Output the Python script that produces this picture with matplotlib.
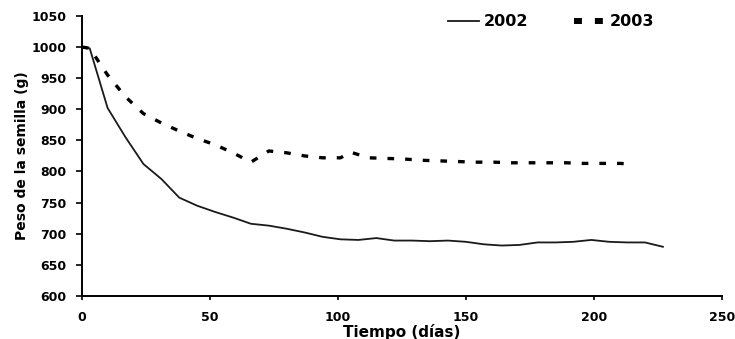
import matplotlib.pyplot as plt
from matplotlib.lines import Line2D

plt.rcParams['font.family'] = ['DejaVu Sans']
plt.rcParams['font.weight'] = 'bold'

days_2002 = [0, 3, 10, 17, 24, 31, 38, 45, 52, 59, 66, 73, 80, 87, 94, 101, 108, 115,
             122, 129, 136, 143, 150, 157, 164, 171, 178, 185, 192, 199, 206, 213, 220, 227]
peso_2002 = [1000, 998, 902, 855, 812, 788, 758, 745, 735, 726, 716, 713, 708, 702, 695, 691, 690, 693,
             689, 689, 688, 689, 687, 683, 681, 682, 686, 686, 687, 690, 687, 686, 686, 679]

days_2003 = [0, 3, 10, 17, 24, 31, 38, 45, 52, 59, 66, 73, 80, 87, 94, 101, 105, 112,
             119, 126, 133, 140, 147, 154, 161, 168, 175, 182, 189, 196, 203, 210, 215]
peso_2003 = [1000, 998, 955, 920, 893, 878, 865, 853, 843, 830, 815, 833, 830, 825, 822, 822, 831, 822,
             821, 820, 818, 817, 816, 815, 815, 814, 814, 814, 814, 813, 813, 813, 812]

fig = plt.figure(figsize=(7.35, 3.39), dpi=100)
ax = fig.add_axes([0.1116, 0.127, 0.8704, 0.826])

ax.plot(days_2002, peso_2002, color="#1a1a1a", linewidth=1.3)
ax.plot(days_2003, peso_2003, color="black", linewidth=2.4, linestyle=(0, (2.0, 3.3)))

ax.set_xlim(0, 250)
ax.set_ylim(600, 1050)
ax.set_xticks(range(0, 251, 50))
ax.set_yticks(range(600, 1051, 50))
ax.spines["top"].set_visible(False)
ax.spines["right"].set_visible(False)
ax.spines["left"].set_linewidth(1.4)
ax.spines["bottom"].set_linewidth(1.4)
ax.tick_params(axis="y", direction="out", length=4.5, width=1.2, labelsize=9, pad=6.5)
ax.tick_params(axis="x", direction="out", length=3, width=1.2, labelsize=9, pad=8)

ax.set_xlabel("Tiempo (días)", fontsize=11, fontweight="bold", va="top")
ax.xaxis.set_label_coords(0.5, -0.1)
ax.set_ylabel("Peso de la semilla (g)", fontsize=10, fontweight="bold", va="center")
ax.yaxis.set_label_coords(-0.094, 0.5)

handles = [
    Line2D([], [], color="#1a1a1a", linewidth=1.3),
    Line2D([], [], color="black", linewidth=4.3, linestyle=(0, (1.33, 2.17))),
]
fig.legend(handles, ["2002", "2003"], loc="center left",
           bbox_to_anchor=(448 / 735, 1 - 22 / 339), ncol=2, frameon=False,
           prop={"weight": "bold", "size": 11.5}, handlelength=1.95,
           columnspacing=2.85, handletextpad=0.3, borderpad=0, borderaxespad=0)

plt.savefig("out.png", dpi=100)
